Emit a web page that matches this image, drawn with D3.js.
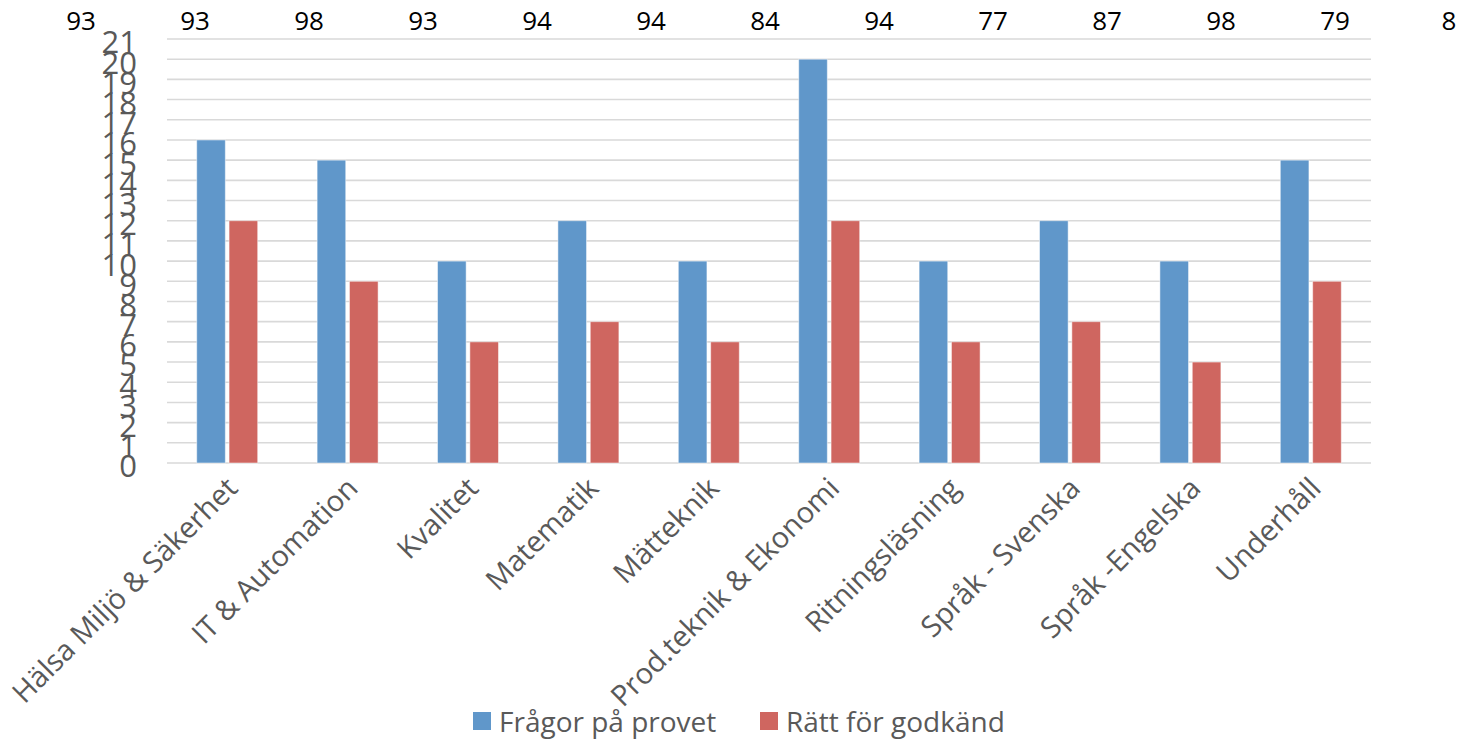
<!DOCTYPE html>
<html>
<head>
<meta charset="utf-8">
<script src="https://cdn.jsdelivr.net/npm/d3@7"></script>
<style>
  html, body { margin: 0; padding: 0; background: #fff; }
  svg { display: block; font-family: "Open Sans", sans-serif; }
</style>
</head>
<body>
<svg id="chart" width="1466" height="742"></svg>
<script>
// Categories and series
const categories = [
  "Hälsa Miljö & Säkerhet", "IT & Automation", "Kvalitet", "Matematik", "Mätteknik",
  "Prod.teknik & Ekonomi", "Ritningsläsning", "Språk - Svenska", "Språk -Engelska", "Underhåll"
];
const seriesNames = ["Frågor på provet", "Rätt för godkänd"];
const fragor = [16, 15, 10, 12, 10, 20, 10, 12, 10, 15];
const ratt   = [12, 9, 6, 7, 6, 12, 6, 7, 5, 9];
const yTicks = d3.range(0, 22);
const topNumbers = ["93", "93", "98", "93", "94", "94", "84", "94", "77", "87", "98", "79", "8"];

const colors = ["#6097ca", "#cf6660"];

const svg = d3.select("#chart");
const plot = { left: 167, right: 1371, top: 39, bottom: 463 };

const x = d3.scaleBand().domain(categories).range([plot.left, plot.right]).padding(0);
const xSub = d3.scaleBand().domain(seriesNames).range([0, 61]).paddingInner(0.115);
const y = d3.scaleLinear().domain([0, 21]).range([plot.bottom, plot.top]);

// Horizontal gridlines
svg.append("g")
  .selectAll("line")
  .data(yTicks)
  .join("line")
  .attr("x1", plot.left).attr("x2", plot.right)
  .attr("y1", d => y(d)).attr("y2", d => y(d))
  .attr("stroke", "#d9d9d9").attr("stroke-width", 1.6);

// Y axis labels
const yAxis = d3.axisLeft(y).tickValues(yTicks).tickSize(0).tickPadding(0);
const gy = svg.append("g").attr("transform", "translate(137,4)").call(yAxis);
gy.select(".domain").remove();
gy.selectAll("text")
  .attr("fill", "#595959")
  .style("font-size", "31px")
  .style("font-family", "'Open Sans', sans-serif");

// Bars
const groups = svg.append("g")
  .selectAll("g")
  .data(categories)
  .join("g")
  .attr("transform", d => `translate(${x(d) + x.bandwidth() / 2 - 30.5},0)`);

groups.selectAll("rect")
  .data((d, i) => [
    { s: seriesNames[0], v: fragor[i], c: colors[0] },
    { s: seriesNames[1], v: ratt[i], c: colors[1] }
  ])
  .join("rect")
  .attr("x", d => xSub(d.s))
  .attr("width", xSub.bandwidth())
  .attr("y", d => y(d.v))
  .attr("height", d => y(0) - y(d.v))
  .attr("fill", d => d.c)
  .attr("stroke", "#ffffff")
  .attr("stroke-opacity", 0.5)
  .attr("stroke-width", 1);

// Category labels (rotated)
svg.append("g")
  .selectAll("text")
  .data(categories)
  .join("text")
  .attr("transform", d => `translate(${x(d) + x.bandwidth() / 2 + 12},${490}) rotate(-45)`)
  .attr("text-anchor", "end")
  .attr("fill", "#595959")
  .style("font-size", "29px")
  .text(d => d);

// Row of numbers along the top
const xTop = d3.scalePoint().domain(d3.range(topNumbers.length)).range([81, 1449]);
svg.append("g")
  .selectAll("text")
  .data(topNumbers)
  .join("text")
  .attr("x", (d, i) => xTop(i))
  .attr("y", 30)
  .attr("text-anchor", "middle")
  .attr("fill", "#000")
  .style("font-size", "26px")
  .text(d => d);

// Legend
const legend = svg.append("g");
const legendItems = [
  { name: seriesNames[0], c: colors[0], x: 473 },
  { name: seriesNames[1], c: colors[1], x: 760 }
];
legendItems.forEach(item => {
  legend.append("rect")
    .attr("x", item.x).attr("y", 712)
    .attr("width", 18).attr("height", 18)
    .attr("fill", item.c);
  legend.append("text")
    .attr("x", item.x + 26).attr("y", 732)
    .attr("fill", "#595959")
    .style("font-size", "28px")
    .text(item.name);
});
</script>
</body>
</html>
